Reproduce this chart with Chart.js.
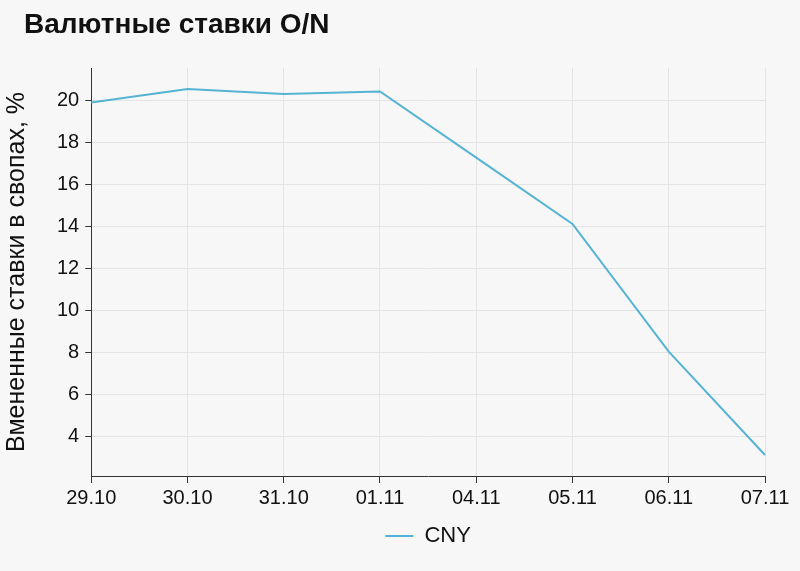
<!DOCTYPE html>
<html>
<head>
<meta charset="utf-8">
<script src="https://cdn.jsdelivr.net/npm/chart.js@4.4.1/dist/chart.umd.min.js"></script>
<style>
  html, body { margin: 0; padding: 0; background: #f7f7f7; }
  #wrap { position: relative; width: 800px; height: 571px; }
  #title {
    position: absolute; left: 24px; top: 8px; margin: 0;
    font: bold 28px "Liberation Sans", Arial, sans-serif; color: #111;
  }
</style>
</head>
<body>
<div id="wrap">
  <h1 id="title">Валютные ставки O/N</h1>
  <canvas id="chart" width="800" height="571"></canvas>
</div>
<script>
// --- DATA ---
const dates = ["29.10", "30.10", "31.10", "01.11", "04.11", "05.11", "06.11", "07.11"];
const cnyRates = [19.93, 20.57, 20.33, 20.45, 17.3, 14.14, 8.06, 3.14];
const seriesName = "CNY";
const yTitle = "Вмененные ставки в свопах, %";

const font = "'Liberation Sans', Arial, sans-serif";
const lineColor = "#55b3d3";

// centre the legend under the plot area rather than the whole canvas
const legendUnderPlot = {
    id: "legendUnderPlot",
    afterLayout(chart) {
        const l = chart.legend;
        const shift = (chart.chartArea.left + chart.chartArea.right) / 2 - (l.left + l.right) / 2;
        l.left += shift;
        l.right += shift;
    }
};

const ctx = document.getElementById("chart").getContext("2d");
new Chart(ctx, {
    type: "line",
    data: {
        labels: dates,
        datasets: [{
            label: seriesName,
            data: cnyRates,
            borderColor: lineColor,
            backgroundColor: lineColor,
            borderWidth: 2,
            pointRadius: 0,
            pointStyle: "line",
            tension: 0,
            fill: false
        }]
    },
    options: {
        responsive: false,
        animation: false,
        layout: { padding: { top: 68, left: 2, right: 35, bottom: 14 } },
        plugins: {
            legend: {
                position: "bottom",
                labels: {
                    usePointStyle: true,
                    pointStyleWidth: 28,
                    color: "#111",
                    font: { family: font, size: 22 },
                    padding: 12
                }
            },
            tooltip: { enabled: false }
        },
        scales: {
            x: {
                offset: false,
                grid: { color: "#e4e4e4", tickColor: "#333", tickLength: 7, offset: false },
                border: { color: "#333", width: 1 },
                ticks: { color: "#111", font: { family: font, size: 20 }, maxRotation: 0, padding: 3 }
            },
            y: {
                min: Math.min(...cnyRates) - 1,
                max: Math.max(...cnyRates) + 1,
                afterBuildTicks: axis => {
                    axis.ticks = axis.ticks.filter(t => Math.abs(t.value % 2) < 1e-6);
                },
                grid: { color: "#e4e4e4", tickColor: "#333", tickLength: 6 },
                border: { color: "#333", width: 1 },
                ticks: { stepSize: 2, color: "#111", font: { family: font, size: 20 }, padding: 6 },
                title: {
                    display: true,
                    text: yTitle,
                    color: "#111",
                    font: { family: font, size: 25 },
                    padding: { top: 0, bottom: 19 }
                }
            }
        }
    },
    plugins: [legendUnderPlot]
});
</script>
</body>
</html>
